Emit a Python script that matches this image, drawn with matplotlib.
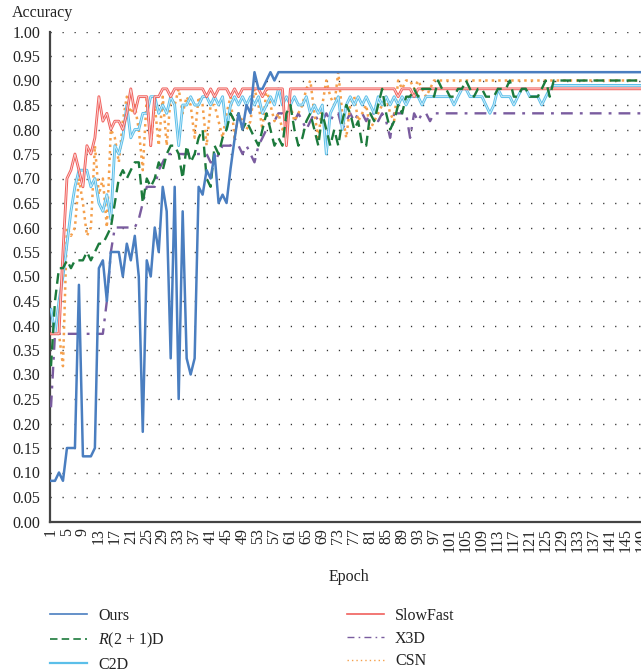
import matplotlib
matplotlib.use("Agg")
import matplotlib.pyplot as plt
import matplotlib.patheffects as pe
from matplotlib.lines import Line2D
import numpy as np

plt.rcParams['font.family'] = ['Liberation Serif', 'DejaVu Serif']
plt.rcParams['mathtext.fontset'] = 'custom'
plt.rcParams['mathtext.it'] = 'Liberation Serif:italic'
plt.rcParams['mathtext.rm'] = 'Liberation Serif'

epochs = list(range(1, 151))

ours = [
    0.083, 0.083, 0.100, 0.083, 0.150, 0.150, 0.150, 0.483, 0.133, 0.133,
    0.133, 0.150, 0.517, 0.533, 0.450, 0.550, 0.550, 0.550, 0.500, 0.567,
    0.533, 0.583, 0.500, 0.183, 0.533, 0.500, 0.600, 0.550, 0.683, 0.633,
    0.333, 0.683, 0.250, 0.633, 0.333, 0.300, 0.333, 0.683, 0.667, 0.717,
    0.700, 0.750, 0.650, 0.667, 0.650, 0.720, 0.780, 0.833, 0.800, 0.850,
    0.833, 0.917, 0.883, 0.883, 0.900, 0.917, 0.900, 0.917, 0.917, 0.917,
    0.917, 0.917, 0.917, 0.917, 0.917, 0.917, 0.917, 0.917, 0.917, 0.917,
    0.917, 0.917, 0.917, 0.917, 0.917, 0.917, 0.917, 0.917, 0.917, 0.917,
    0.917, 0.917, 0.917, 0.917, 0.917, 0.917, 0.917, 0.917, 0.917, 0.917,
    0.917, 0.917, 0.917, 0.917, 0.917, 0.917, 0.917, 0.917, 0.917, 0.917,
    0.917, 0.917, 0.917, 0.917, 0.917, 0.917, 0.917, 0.917, 0.917, 0.917,
    0.917, 0.917, 0.917, 0.917, 0.917, 0.917, 0.917, 0.917, 0.917, 0.917,
    0.917, 0.917, 0.917, 0.917, 0.917, 0.917, 0.917, 0.917, 0.917, 0.917,
    0.917, 0.917, 0.917, 0.917, 0.917, 0.917, 0.917, 0.917, 0.917, 0.917,
    0.917, 0.917, 0.917, 0.917, 0.917, 0.917, 0.917, 0.917, 0.917, 0.917,
]

slowfast = [
    0.383, 0.383, 0.383, 0.550, 0.700, 0.717, 0.750, 0.717, 0.683, 0.767,
    0.750, 0.783, 0.867, 0.817, 0.833, 0.800, 0.817, 0.817, 0.800, 0.833,
    0.883, 0.833, 0.867, 0.867, 0.867, 0.767, 0.867, 0.867, 0.883, 0.883,
    0.867, 0.883, 0.883, 0.883, 0.883, 0.883, 0.883, 0.883, 0.883, 0.867,
    0.883, 0.867, 0.883, 0.883, 0.883, 0.867, 0.883, 0.867, 0.883, 0.883,
    0.883, 0.883, 0.883, 0.867, 0.883, 0.883, 0.883, 0.883, 0.883, 0.767,
    0.883, 0.883, 0.883, 0.883, 0.883, 0.883, 0.883, 0.883, 0.883, 0.883,
    0.883, 0.883, 0.883, 0.883, 0.883, 0.883, 0.883, 0.883, 0.883, 0.883,
    0.883, 0.883, 0.883, 0.883, 0.883, 0.883, 0.883, 0.867, 0.883, 0.883,
    0.883, 0.867, 0.883, 0.883, 0.883, 0.883, 0.883, 0.883, 0.883, 0.883,
    0.883, 0.883, 0.883, 0.883, 0.883, 0.883, 0.883, 0.883, 0.883, 0.883,
    0.883, 0.883, 0.883, 0.883, 0.883, 0.883, 0.883, 0.883, 0.883, 0.883,
    0.883, 0.883, 0.883, 0.883, 0.883, 0.883, 0.883, 0.883, 0.883, 0.883,
    0.883, 0.883, 0.883, 0.883, 0.883, 0.883, 0.883, 0.883, 0.883, 0.883,
    0.883, 0.883, 0.883, 0.883, 0.883, 0.883, 0.883, 0.883, 0.883, 0.883,
]

c2d = [
    0.433, 0.383, 0.450, 0.500, 0.567, 0.633, 0.683, 0.717, 0.717, 0.717,
    0.683, 0.700, 0.650, 0.633, 0.667, 0.617, 0.767, 0.750, 0.783, 0.850,
    0.783, 0.800, 0.800, 0.833, 0.833, 0.867, 0.867, 0.833, 0.850, 0.833,
    0.867, 0.850, 0.767, 0.850, 0.850, 0.867, 0.850, 0.850, 0.867, 0.867,
    0.850, 0.867, 0.850, 0.867, 0.800, 0.850, 0.867, 0.850, 0.867, 0.850,
    0.867, 0.850, 0.867, 0.833, 0.850, 0.867, 0.850, 0.883, 0.850, 0.867,
    0.850, 0.867, 0.850, 0.850, 0.867, 0.833, 0.850, 0.833, 0.850, 0.750,
    0.833, 0.850, 0.867, 0.800, 0.850, 0.867, 0.850, 0.867, 0.850, 0.867,
    0.850, 0.833, 0.867, 0.850, 0.867, 0.850, 0.867, 0.850, 0.867, 0.850,
    0.867, 0.867, 0.867, 0.850, 0.867, 0.867, 0.867, 0.867, 0.867, 0.867,
    0.867, 0.850, 0.867, 0.883, 0.883, 0.867, 0.867, 0.867, 0.867, 0.850,
    0.833, 0.850, 0.883, 0.867, 0.867, 0.867, 0.850, 0.867, 0.883, 0.883,
    0.867, 0.867, 0.867, 0.850, 0.867, 0.883, 0.890, 0.890, 0.890, 0.890,
    0.890, 0.890, 0.890, 0.890, 0.890, 0.890, 0.890, 0.890, 0.890, 0.890,
    0.890, 0.890, 0.890, 0.890, 0.890, 0.890, 0.890, 0.890, 0.890, 0.890,
]

r21d = [
    0.317, 0.450, 0.517, 0.517, 0.533, 0.517, 0.533, 0.533, 0.533, 0.550,
    0.533, 0.550, 0.567, 0.567, 0.583, 0.600, 0.650, 0.700, 0.717, 0.700,
    0.717, 0.733, 0.733, 0.650, 0.700, 0.683, 0.700, 0.733, 0.717, 0.750,
    0.767, 0.767, 0.750, 0.700, 0.767, 0.733, 0.750, 0.783, 0.800, 0.700,
    0.683, 0.767, 0.750, 0.783, 0.800, 0.833, 0.817, 0.833, 0.800, 0.817,
    0.800, 0.783, 0.767, 0.800, 0.833, 0.800, 0.767, 0.783, 0.767, 0.833,
    0.850, 0.800, 0.767, 0.783, 0.817, 0.833, 0.800, 0.767, 0.833, 0.800,
    0.767, 0.800, 0.767, 0.817, 0.850, 0.833, 0.800, 0.817, 0.767, 0.767,
    0.833, 0.817, 0.850, 0.883, 0.833, 0.800, 0.817, 0.850, 0.833, 0.867,
    0.867, 0.883, 0.867, 0.883, 0.883, 0.883, 0.867, 0.900, 0.883, 0.883,
    0.867, 0.867, 0.883, 0.883, 0.900, 0.883, 0.867, 0.883, 0.883, 0.867,
    0.867, 0.867, 0.883, 0.883, 0.883, 0.900, 0.867, 0.867, 0.883, 0.883,
    0.867, 0.867, 0.867, 0.883, 0.900, 0.867, 0.900, 0.900, 0.900, 0.900,
    0.900, 0.900, 0.900, 0.900, 0.900, 0.900, 0.900, 0.900, 0.900, 0.900,
    0.900, 0.900, 0.900, 0.900, 0.900, 0.900, 0.900, 0.900, 0.900, 0.900,
]

x3d = [
    0.233, 0.383, 0.383, 0.383, 0.383, 0.383, 0.383, 0.383, 0.383, 0.383,
    0.383, 0.383, 0.383, 0.383, 0.450, 0.550, 0.600, 0.600, 0.600, 0.600,
    0.600, 0.600, 0.617, 0.650, 0.683, 0.683, 0.683, 0.717, 0.733, 0.750,
    0.750, 0.750, 0.750, 0.750, 0.750, 0.750, 0.750, 0.750, 0.750, 0.750,
    0.733, 0.733, 0.750, 0.767, 0.767, 0.767, 0.783, 0.767, 0.750, 0.767,
    0.750, 0.733, 0.767, 0.783, 0.800, 0.817, 0.817, 0.833, 0.833, 0.817,
    0.817, 0.817, 0.833, 0.817, 0.800, 0.817, 0.833, 0.817, 0.817, 0.833,
    0.817, 0.833, 0.833, 0.800, 0.817, 0.833, 0.817, 0.833, 0.833, 0.817,
    0.833, 0.833, 0.817, 0.833, 0.817, 0.783, 0.833, 0.833, 0.833, 0.833,
    0.783, 0.833, 0.817, 0.833, 0.833, 0.817, 0.833, 0.833, 0.833, 0.833,
    0.833, 0.833, 0.833, 0.833, 0.833, 0.833, 0.833, 0.833, 0.833, 0.833,
    0.833, 0.833, 0.833, 0.833, 0.833, 0.833, 0.833, 0.833, 0.833, 0.833,
    0.833, 0.833, 0.833, 0.833, 0.833, 0.833, 0.833, 0.833, 0.833, 0.833,
    0.833, 0.833, 0.833, 0.833, 0.833, 0.833, 0.833, 0.833, 0.833, 0.833,
    0.833, 0.833, 0.833, 0.833, 0.833, 0.833, 0.833, 0.833, 0.833, 0.833,
]

csn = [
    0.383, 0.383, 0.383, 0.317, 0.600, 0.583, 0.600, 0.700, 0.650, 0.583,
    0.600, 0.767, 0.667, 0.700, 0.600, 0.800, 0.783, 0.733, 0.817, 0.867,
    0.833, 0.850, 0.800, 0.717, 0.867, 0.767, 0.850, 0.767, 0.867, 0.767,
    0.867, 0.850, 0.883, 0.833, 0.867, 0.850, 0.783, 0.867, 0.850, 0.767,
    0.850, 0.850, 0.817, 0.783, 0.833, 0.867, 0.783, 0.833, 0.817, 0.800,
    0.817, 0.883, 0.850, 0.800, 0.883, 0.850, 0.817, 0.833, 0.800, 0.817,
    0.850, 0.817, 0.833, 0.850, 0.883, 0.900, 0.833, 0.783, 0.850, 0.900,
    0.867, 0.850, 0.917, 0.833, 0.783, 0.850, 0.867, 0.817, 0.833, 0.850,
    0.800, 0.817, 0.833, 0.850, 0.867, 0.833, 0.817, 0.900, 0.883, 0.900,
    0.900, 0.883, 0.900, 0.883, 0.867, 0.883, 0.900, 0.900, 0.900, 0.900,
    0.900, 0.900, 0.900, 0.900, 0.900, 0.900, 0.900, 0.900, 0.900, 0.900,
    0.900, 0.900, 0.900, 0.900, 0.900, 0.900, 0.900, 0.900, 0.900, 0.900,
    0.900, 0.900, 0.900, 0.900, 0.900, 0.900, 0.900, 0.900, 0.900, 0.900,
    0.900, 0.900, 0.900, 0.900, 0.900, 0.900, 0.900, 0.900, 0.900, 0.900,
    0.900, 0.900, 0.900, 0.900, 0.900, 0.900, 0.900, 0.900, 0.900, 0.900,
]

series_names = ['Ours', '$R$(2 + 1)D', 'C2D', 'SlowFast', 'X3D', 'CSN']
xtick_labels = [str(v) for v in range(1, 151, 4)]
ytick_values = [round(0.05 * i, 2) for i in range(21)]

C_OURS = '#4a7ec0'
C_R21D = '#1c7a3c'
C_C2D = '#5bbfe9'
C_SF = '#f0605c'
C_X3D = '#7a5c9f'
C_CSN = '#f5a04c'

W, H = 641, 672
fig = plt.figure(figsize=(W / 100, H / 100), dpi=100)
ax = fig.add_axes([50 / W, (H - 521.5) / H, 597.5 / W, 490 / H])

ax.set_xlim(0.75, 150.5)
ax.set_ylim(0, 1.0)

ax.plot(epochs, x3d, color=C_X3D, lw=1.7, ls=(0, (5, 3, 1.2, 3)), zorder=3)
ax.plot(epochs, csn, color=C_CSN, lw=1.8, ls=(0, (1, 1.6)), zorder=3)
ax.plot(epochs, r21d, color=C_R21D, lw=1.7, ls=(0, (4.5, 2.5)), zorder=4)
ax.plot(epochs, c2d, color=C_C2D, lw=1.7, zorder=3,
        path_effects=[pe.Stroke(linewidth=2.0, foreground=C_C2D),
                      pe.Stroke(linewidth=0.6, foreground='#d8f0fb')])
ax.plot(epochs, slowfast, color=C_SF, lw=1.7, zorder=3,
        path_effects=[pe.Stroke(linewidth=2.0, foreground=C_SF),
                      pe.Stroke(linewidth=0.6, foreground='#fcdcdb')])
ax.plot(epochs, ours, color=C_OURS, lw=1.8, zorder=5)

ax.set_xticks(list(range(1, 151, 4)))
ax.set_xticklabels(xtick_labels, rotation=90, fontsize=11.5)
ax.set_yticks(ytick_values)
ax.set_yticklabels([f'{v:.2f}' for v in ytick_values], fontsize=11.5)
ax.tick_params(axis='both', length=0, colors='#222222')
ax.tick_params(axis='y', pad=7)
ax.tick_params(axis='x', pad=5)

for s in ['top', 'right']:
    ax.spines[s].set_visible(False)
for s in ['left', 'bottom']:
    ax.spines[s].set_color('#444444')
    ax.spines[s].set_linewidth(1.6)

ax.yaxis.grid(True, linestyle=(0, (0.9, 7.75)), color='#333333', lw=1.0)
ax.xaxis.grid(False)
ax.set_axisbelow(True)

fig.text(12 / W, 1 - 13 / H, 'Accuracy', ha='left', va='center', fontsize=11.5, color='#222222')
fig.text(348.5 / W, 1 - 577 / H, 'Epoch', ha='center', va='center', fontsize=11.5, color='#222222')

handles = [
    Line2D([], [], color=C_OURS, lw=1.2),
    Line2D([], [], color=C_R21D, lw=1.2, ls=(0, (4.5, 2.5))),
    Line2D([], [], color=C_C2D, lw=1.6),
    Line2D([], [], color=C_SF, lw=1.2),
    Line2D([], [], color=C_X3D, lw=1.0, ls=(0, (5, 3, 1.2, 3))),
    Line2D([], [], color=C_CSN, lw=1.0, ls=(0, (1, 2.2))),
]
fig.legend(handles, series_names, loc='upper left', bbox_to_anchor=(50 / W, 1 - 608 / H),
           ncol=2, frameon=False, fontsize=11.5, handlelength=2.3, handletextpad=0.7,
           columnspacing=11.45, labelspacing=0.42, borderpad=0, borderaxespad=0,
           labelcolor='#222222')

fig.savefig('out.png', dpi=100)
